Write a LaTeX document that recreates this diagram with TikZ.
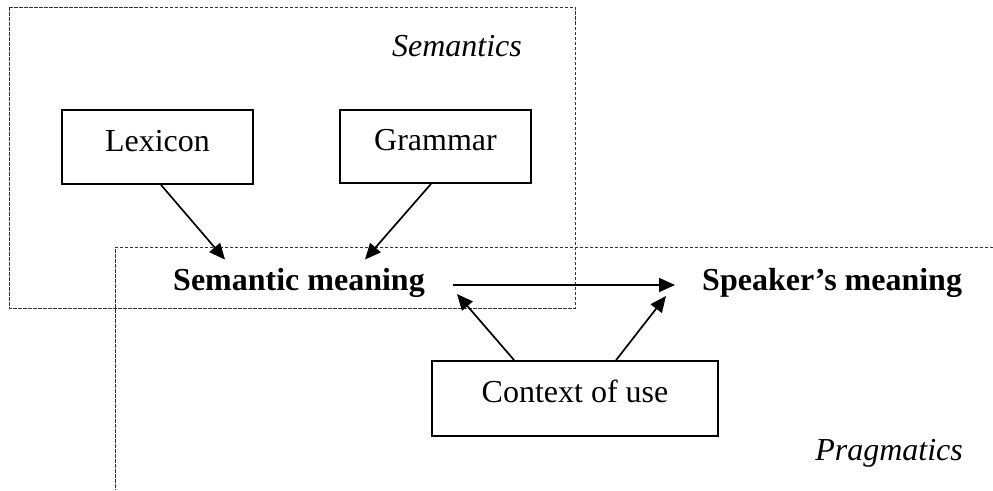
\documentclass[tikz,border=0pt]{standalone}
\usepackage{fontspec}
\setmainfont{Liberation Serif}
\usetikzlibrary{arrows.meta,calc}
\tikzset{
  frame/.style={line width=0.9pt, dash pattern=on 3.5pt off 1.5pt, draw=black!80},
  boxnode/.style={draw, line width=1.8pt, inner sep=0pt, text height=22pt, text depth=14pt},
  arr/.style={line width=1.7pt, -{Triangle[length=16pt,width=14pt]}},
  bigtext/.style={inner sep=0pt, font=\bfseries\fontsize{32}{38}\selectfont},
  itlabel/.style={inner sep=0pt, font=\itshape\fontsize{32}{38}\selectfont}
}
\begin{document}
\begin{tikzpicture}[x=1pt,y=-1pt, font=\fontsize{32}{38}\selectfont]
\useasboundingbox (0,0) rectangle (993,490);
% frames
\draw[frame] (9,7) rectangle (575,308);
\draw[frame] (993,247) -- (115,247) -- (115,490);
% labels
\node[itlabel, anchor=base east] (semlab) at (522,56) {Semantics};
\node[itlabel, anchor=base east] (praglab) at (963,460) {Pragmatics};
% boxes
\node[boxnode, minimum width=191pt, minimum height=74pt] (lex) at (157.5,147) {Lexicon};
\node[boxnode, minimum width=191pt, minimum height=73pt] (gram) at (435.5,146.5) {Grammar};
\node[boxnode, minimum width=286pt, minimum height=75pt] (ctx) at (575,398.5) {Context of use};
% meanings
\node[bigtext, anchor=base] (sem) at (299,290) {Semantic meaning};
\node[bigtext, anchor=base west] (spk) at (702,290) {Speaker’s meaning};
% arrows
\draw[arr] ($(lex.south)+(3.5,0)$) -- ($(sem.north west)+(52,-8)$);
\draw[arr] ($(gram.south)+(-4.5,0)$) -- ($(sem.north east)+(-60,-8)$);
\draw[arr] ($(sem.base east)+(28,-5)$) -- ($(spk.base west)+(-27,-5)$);
\draw[arr] ($(ctx.north west)+(83,0)$) -- ($(sem.base east)+(32,4)$);
\draw[arr] ($(ctx.north west)+(185,0)$) -- ($(spk.base west)+(-36,6)$);
\end{tikzpicture}
\end{document}
